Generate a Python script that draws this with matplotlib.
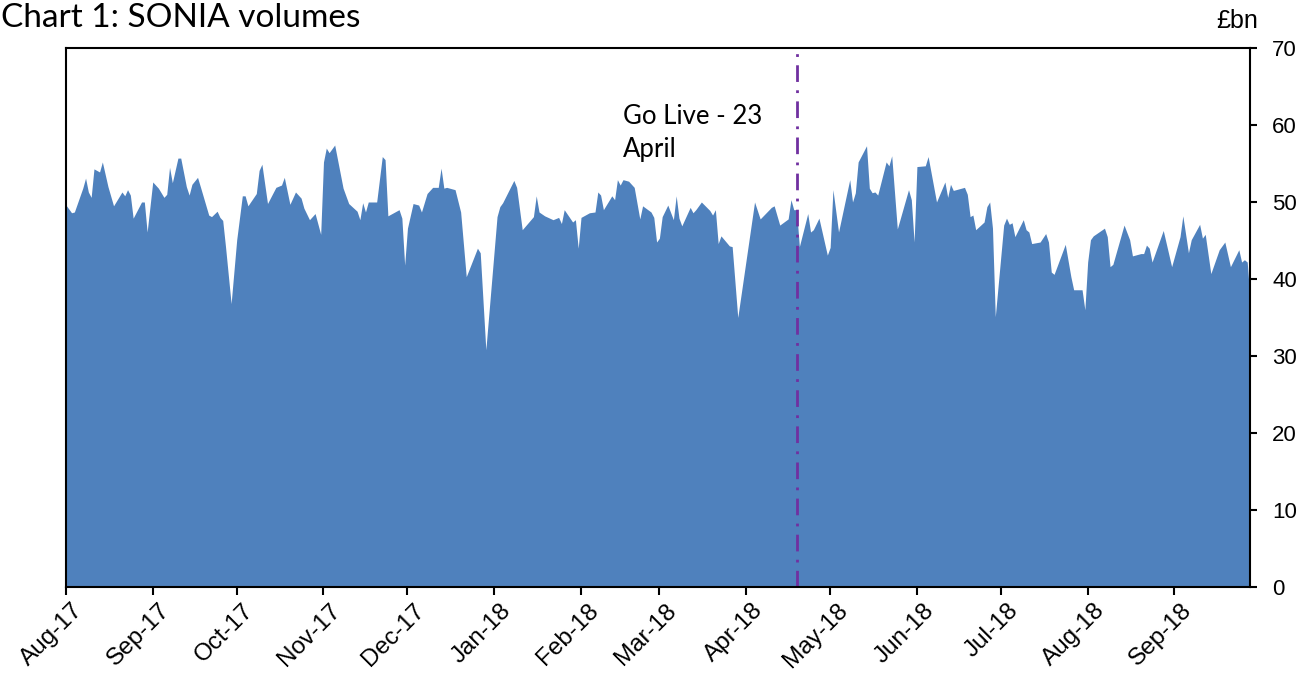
import matplotlib
matplotlib.use("Agg")
import matplotlib.pyplot as plt
import matplotlib.dates as mdates
import matplotlib.transforms as mtransforms
import pandas as pd

plt.rcParams["font.family"] = ["Liberation Sans", "DejaVu Sans"]

# Daily SONIA volumes (£bn) as (days since 1 Aug 2017, value)
start = pd.Timestamp("2017-08-01")
day_offset = [
    0, 2, 3, 6, 7, 8, 9, 10, 12, 13, 15, 17, 20, 21, 22, 23, 24, 27, 28, 29,
    31, 33, 35, 36, 37, 38, 40, 41, 43, 44, 45, 47, 48, 51, 52, 54, 55, 56, 57, 59,
    61, 63, 64, 65, 68, 69, 70, 72, 75, 77, 78, 80, 82, 84, 85, 87, 89, 91,
    92, 93, 94, 96, 99, 101, 104, 105, 106, 107, 108, 111, 113, 114, 115, 119, 120, 121,
    122, 124, 126, 127, 129, 131, 133, 134, 135, 136, 139, 141, 143, 147, 148, 150,
    154, 155, 156, 160, 161, 163, 167, 168, 169, 171, 174, 176, 177, 178, 181, 182, 183,
    184, 187, 189, 190, 191, 192, 195, 196, 197, 198, 199, 201, 203, 205, 206, 209, 210, 211,
    212, 213, 215, 217, 218, 219, 220, 223, 224, 225, 227, 230, 231, 232, 233, 234, 237, 238, 240,
    246, 248, 252, 253, 255, 258, 259, 260, 261, 262, 265, 266, 267, 269, 272, 273,
    274, 276, 280, 281, 282, 283, 286, 287, 288, 289, 290, 293, 294, 295, 297, 301, 302, 303,
    304, 307, 308, 311, 314, 315, 316, 317, 321, 322, 323, 324, 325, 328, 329, 330, 331, 332,
    335, 336, 337, 338, 339, 342, 343, 344, 345, 348, 350, 351, 352, 353, 357, 359, 360, 363, 364,
    365, 366, 367, 371, 372, 373, 374, 378, 380, 381, 384, 385, 386, 387, 388, 392, 395,
    398, 399, 401, 402, 405, 406, 407, 409, 412, 414, 416, 419, 420, 421, 422, 423,
]
volumes = [
    49.6, 48.6, 48.7, 51.8, 53.1, 51.3, 50.6, 54.3, 53.9, 55.2, 52.0, 49.5, 51.3, 50.8, 51.6, 50.9, 47.9, 50.0, 50.0, 46.1,
    52.6, 51.8, 50.6, 51.0, 54.5, 52.5, 55.7, 55.7, 52.0, 50.9, 52.3, 53.2, 52.0, 48.3, 48.1, 48.8, 48.0, 47.6, 44.2, 36.8,
    45.1, 50.8, 50.8, 49.5, 51.1, 54.1, 54.9, 49.8, 51.9, 52.2, 53.2, 49.7, 51.3, 50.5, 49.2, 47.7, 48.5, 45.8,
    55.2, 57.0, 56.4, 57.4, 51.8, 49.8, 48.8, 47.7, 49.9, 48.7, 50.0, 50.0, 55.9, 55.5, 48.2, 49.0, 47.9, 41.8,
    46.6, 49.8, 49.6, 48.7, 51.1, 51.9, 51.9, 54.4, 51.8, 51.9, 51.6, 48.7, 40.3, 44.0, 43.4, 30.8,
    48.1, 49.4, 49.9, 52.8, 51.9, 46.4, 48.1, 50.8, 48.7, 48.2, 47.7, 48.0, 47.2, 49.0, 47.4, 47.7, 44.0,
    48.0, 48.6, 48.7, 51.3, 50.9, 49.0, 50.8, 50.3, 52.9, 52.2, 52.9, 52.7, 51.9, 47.8, 49.5, 48.7, 48.0, 44.8,
    45.3, 48.1, 49.6, 47.7, 50.8, 47.9, 46.9, 49.3, 48.6, 49.0, 50.0, 48.9, 48.3, 49.0, 44.6, 45.6, 44.3, 44.2, 35.0,
    50.0, 47.8, 49.3, 49.5, 47.0, 47.8, 50.3, 49.0, 49.0, 44.2, 48.5, 46.1, 46.4, 47.9, 43.1, 44.1,
    51.6, 46.1, 52.9, 50.0, 51.2, 55.2, 57.3, 51.8, 51.2, 51.3, 50.9, 55.2, 54.7, 56.0, 46.5, 51.6, 50.3, 44.8,
    54.6, 54.7, 55.9, 50.0, 52.6, 50.6, 52.3, 51.5, 51.9, 51.0, 48.1, 48.3, 46.4, 47.4, 49.4, 50.0, 46.6, 35.1,
    47.0, 47.9, 47.1, 47.3, 45.5, 47.7, 46.4, 46.1, 44.6, 44.8, 45.9, 44.8, 40.9, 40.6, 44.5, 40.3, 38.6, 38.6, 36.0,
    42.2, 45.1, 45.6, 46.6, 45.5, 41.6, 41.9, 47.0, 45.1, 43.0, 43.3, 43.3, 44.4, 44.0, 42.2, 46.3, 41.6,
    45.5, 48.2, 43.4, 45.1, 47.1, 45.3, 45.8, 40.7, 43.8, 44.8, 41.6, 43.8, 42.2, 42.5, 42.2, 37.5,
]
dates = start + pd.to_timedelta(day_offset, unit="D")

go_live = pd.Timestamp("2018-04-19")
month_ticks = pd.date_range("2017-08-01", "2018-09-01", freq="MS")
y_ticks = [0, 10, 20, 30, 40, 50, 60, 70]

fig = plt.figure(figsize=(13.14, 6.73), dpi=100)
ax = fig.add_axes([0.0502, 0.1278, 0.9011, 0.8009])

ax.fill_between(dates, volumes, 0, color="#4F81BD", lw=0)
ax.axvline(go_live, color="#7030A0", lw=2, linestyle=(0, (6, 3, 1, 3)))

ax.set_xlim(start, start + pd.Timedelta(days=423))
ax.set_ylim(0, 70)
ax.set_yticks(y_ticks)
ax.yaxis.tick_right()
ax.set_xticks(month_ticks)
ax.xaxis.set_major_formatter(mdates.DateFormatter("%b-%y"))

for s in ax.spines.values():
    s.set_linewidth(1.5)
    s.set_color("black")

ax.tick_params(axis="x", direction="out", length=6, width=1.5, pad=3, labelsize=17.5)
ax.tick_params(axis="y", direction="out", length=5, width=1.5, pad=11, labelsize=16)

# rotated month labels, nudged right like the original
shift = mtransforms.ScaledTranslation(6 / 100, 0, fig.dpi_scale_trans)
for lab in ax.get_xticklabels():
    lab.set_rotation(45)
    lab.set_ha("right")
    lab.set_rotation_mode("anchor")
    lab.set_family("Liberation Sans")
    lab.set_transform(lab.get_transform() + shift)

ax.text(1.0068, 1.037, "£bn", transform=ax.transAxes, ha="right", va="baseline", fontsize=18)
ax.text(0.4704, 0.897, "Go Live - 23\nApril", transform=ax.transAxes, ha="left", va="top",
        fontsize=18.5, family="Lato", linespacing=1.42)

fig.text(0.001, 0.995, "Chart 1: SONIA volumes", ha="left", va="top", fontsize=24, family="Lato")

fig.savefig("out.png", dpi=100)
